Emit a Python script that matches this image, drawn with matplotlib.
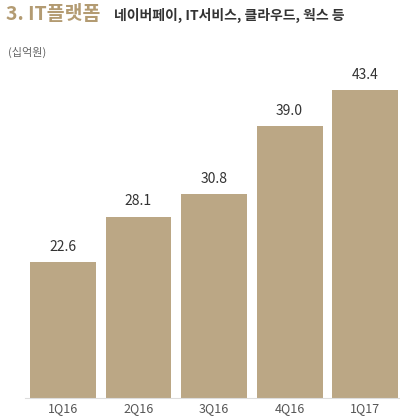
import matplotlib
matplotlib.use("Agg")
import matplotlib.pyplot as plt

plt.rcParams['font.family'] = ['Noto Sans CJK KR', 'DejaVu Sans']

quarters = ["1Q16", "2Q16", "3Q16", "4Q16", "1Q17"]
values = [22.6, 28.1, 30.8, 39.0, 43.4]
labels = ["22.6", "28.1", "30.8", "39.0", "43.4"]

bar_color = "#BBA785"

fig = plt.figure(figsize=(4.0, 4.18), dpi=100)
ax = fig.add_axes([0.0625, 0.048, 0.9375, 0.808])

x = range(len(values))
ax.bar(x, values, width=0.87, color=bar_color)
for xi, v, t in zip(x, values, labels):
    ax.text(xi, v + 1.0, t, ha="center", va="bottom", fontsize=10, color="#333333")

ax.set_xlim(-0.5, 4.46)
ax.set_ylim(6.2, 47.0)
ax.set_xticks(list(x))
ax.set_xticklabels(quarters, fontsize=9, color="#555555")
ax.tick_params(axis="x", length=0, pad=3)
ax.set_yticks([])
for s in ["top", "right", "left"]:
    ax.spines[s].set_visible(False)
ax.spines["bottom"].set_color("#dddddd")

fig.text(0.015, 0.965, "3. IT플랫폼", fontsize=14, fontweight="bold",
         color="#B39B72", va="center")
fig.text(0.285, 0.962, "네이버페이, IT서비스, 클라우드, 웍스 등", fontsize=10,
         fontweight="bold", color="#333333", va="center")
fig.text(0.02, 0.875, "(십억원)", fontsize=8, color="#666666", va="center")

plt.savefig("out.png", dpi=100, facecolor="white")
plt.close()
